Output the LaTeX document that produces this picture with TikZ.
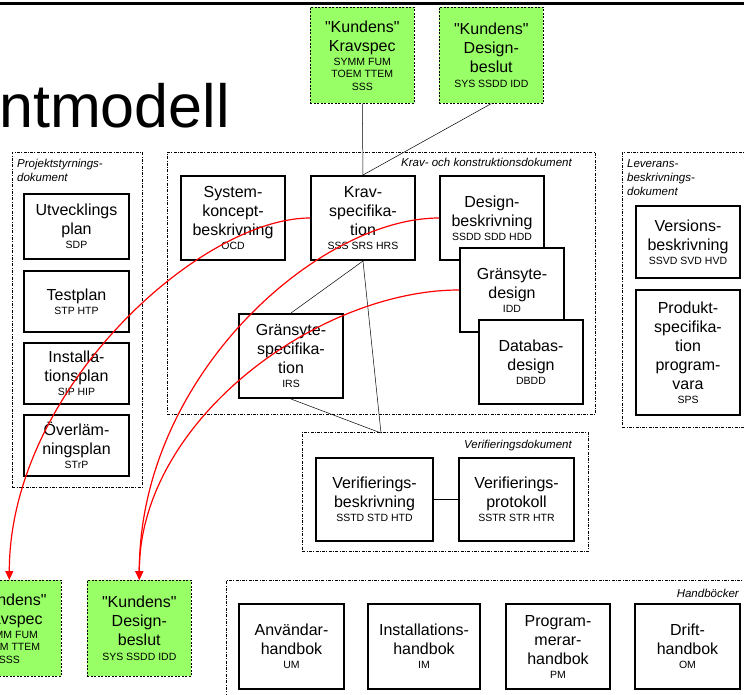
\documentclass[tikz,border=0pt]{standalone}
\usepackage{fontspec}
\setmainfont{Liberation Sans}[Ligatures=TeXOff]
\usepackage{xcolor}
\usetikzlibrary{arrows.meta,positioning}

\definecolor{kundgreen}{RGB}{153,255,102}
\newcommand{\code}[1]{{\fontsize{10.5}{12}\selectfont #1}}

\begin{document}
\begin{tikzpicture}[
    x=1pt, y=-1pt,
    doc/.style={rectangle, draw, line width=2pt, fill=white, align=center, minimum width=104pt, minimum height=84pt, inner sep=1pt, anchor=north west, font=\fontsize{16}{19}\selectfont},
    kund/.style={doc, fill=kundgreen, line width=0.6pt, dash pattern=on 2pt off 1.5pt, minimum height=96pt},
    group/.style={rectangle, draw, line width=0.6pt, dash pattern=on 3pt off 1.3pt on 1pt off 1.3pt, anchor=north west, inner sep=0pt},
    grplabel/.style={inner sep=0pt, align=left, font=\fontsize{11.5}{14}\selectfont\itshape},
    link/.style={draw, line width=0.5pt},
    flow/.style={red, line width=1.2pt, -{Triangle[length=9pt,width=8pt]}}
]
    \useasboundingbox (0,0) rectangle (744,695);
    \clip (0,0) rectangle (744,695);

    % Title and top rule
    \draw[line width=3pt] (0,4) -- (744,4);
    \node[anchor=base west, inner sep=0pt, font=\fontsize{61}{70}\selectfont] (title) at (-1,128) {ntmodell};

    % Groups
    \node[group, minimum width=130pt, minimum height=335pt] (projgrp) at (12,152) {};
    \node[group, minimum width=428pt, minimum height=262pt] (kravgrp) at (167,152) {};
    \node[group, minimum width=140pt, minimum height=275pt] (levgrp) at (622,152) {};
    \node[group, minimum width=286pt, minimum height=119pt] (verifgrp) at (302,432) {};
    \node[group, minimum width=540pt, minimum height=140pt] (handgrp) at (226,580) {};

    \node[grplabel, anchor=north west] (projlbl) at (17,158.5) {Projektstyrnings-\\dokument};
    \node[grplabel, anchor=base east] (kravlbl) at (572,167) {Krav- och konstruktionsdokument};
    \node[grplabel, anchor=north west] (levlbl) at (627,159) {Leverans-\\beskrivnings-\\dokument};
    \node[grplabel, anchor=base east] (veriflbl) at (572,448) {Verifieringsdokument};
    \node[grplabel, anchor=base east] (handlbl) at (739,597) {Handböcker};

    % Customer documents
    \node[kund] (kkrav) at (310,7) {"Kundens"\\Kravspec\\[-5pt]\code{SYMM FUM}\\[-6.5pt]\code{TOEM TTEM}\\[-6.5pt]\code{SSS}};
    \node[kund] (kdesign) at (439,7) {"Kundens"\\Design-\\beslut\\[-4.5pt]\code{SYS SSDD IDD}};
    \node[kund] (kkravb) at (-43,580) {"Kundens"\\Kravspec\\[-5pt]\code{SYMM FUM}\\[-6.5pt]\code{TOEM TTEM}\\[-6.5pt]\code{SSS}};
    \node[kund] (kdesignb) at (87,580) {"Kundens"\\Design-\\beslut\\[-4.5pt]\code{SYS SSDD IDD}};

    % Project plans
    \node[doc, minimum width=105pt, minimum height=65pt] (sdp) at (23,193) {Utvecklings\\plan\\[-5pt]\code{SDP}};
    \node[doc, minimum width=105pt, minimum height=61pt, below=10pt of sdp] (stp) {Testplan\\[-5pt]\code{STP HTP}};
    \node[doc, minimum width=105pt, minimum height=61pt, below=9pt of stp] (sip) {Installa-\\tionsplan\\[-5pt]\code{SIP HIP}};
    \node[doc, minimum width=105pt, minimum height=61pt, below=9pt of sip] (strp) {Överläm-\\ningsplan\\[-5pt]\code{STrP}};

    % Requirements and design
    \node[doc] (ocd) at (180,175) {System-\\koncept-\\beskrivning\\[-5pt]\code{OCD}};
    \node[doc] (krav) at (310,175) {Krav-\\specifika-\\tion\\[-5pt]\code{SSS SRS HRS}};
    \node[doc] (design) at (439,175) {Design-\\beskrivning\\[-5pt]\code{SSDD SDD HDD}};
    \node[doc] (gdesign) at (459,247) {Gränsyte-\\design\\[-5pt]\code{IDD}};
    \node[doc] (dbdesign) at (478,319) {Databas-\\design\\[-5pt]\code{DBDD}};
    \node[doc] (gspec) at (238,313) {Gränsyte-\\specifika-\\tion\\[-5pt]\code{IRS}};

    % Delivery
    \node[doc, minimum height=72pt] (svd) at (635,205) {Versions-\\beskrivning\\[-5pt]\code{SSVD SVD HVD}};
    \node[doc, minimum height=125pt] (sps) at (635,289) {Produkt-\\specifika-\\tion\\program-\\vara\\[-5pt]\code{SPS}};

    % Verification
    \node[doc, minimum width=117pt, minimum height=83pt] (std) at (315,457) {Verifierings-\\beskrivning\\[-5pt]\code{SSTD STD HTD}};
    \node[doc, minimum width=115pt, minimum height=83pt] (str) at (458,457) {Verifierings-\\protokoll\\[-5pt]\code{SSTR STR HTR}};

    % Manuals
    \node[doc, minimum width=105pt, minimum height=85pt] (um) at (238,603) {Användar-\\handbok\\[-5pt]\code{UM}};
    \node[doc, minimum width=112pt, minimum height=85pt, right=22pt of um] (im) {Installations-\\handbok\\[-5pt]\code{IM}};
    \node[doc, minimum width=104pt, minimum height=85pt, right=24pt of im] (pm) {Program-\\merar-\\handbok\\[-5pt]\code{PM}};
    \node[doc, minimum width=105pt, minimum height=85pt, right=23pt of pm] (om) {Drift-\\handbok\\[-5pt]\code{OM}};

    % Links
    \coordinate (vjoin) at (381,433);
    \draw[link] (kkrav.south) -- (krav.north);
    \draw[link] (kdesign.south) -- (krav.north);
    \draw[link] (krav.south) -- (gspec.north);
    \draw[link] (krav.south) -- (vjoin);
    \draw[link] (gspec.south) -- (vjoin);
    \draw[link] (std.east) -- (str.west);

    % Hand-over to customer
    \draw[flow] (krav.west) .. controls +(-110,0) and +(0,-190) .. (kkravb.north);
    \draw[flow] (design.west) .. controls +(-120,0) and +(0,-205) .. (kdesignb.north);
    \draw[flow] (gdesign.west) .. controls +(-140,0) and +(0,-160) .. (kdesignb.north);
\end{tikzpicture}
\end{document}
